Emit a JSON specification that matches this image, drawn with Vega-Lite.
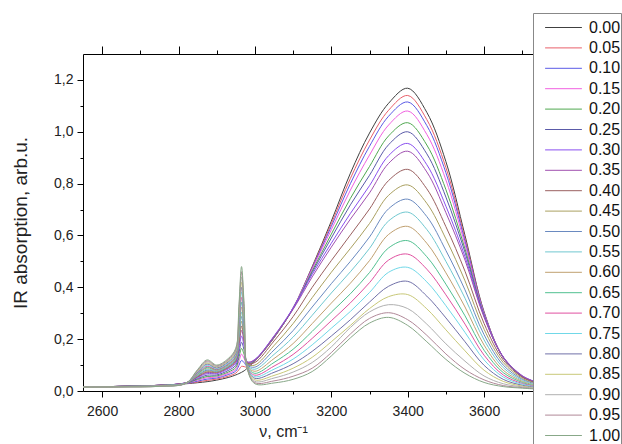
{
"$schema": "https://vega.github.io/schema/vega-lite/v6.json",
"width": 450, "height": 337,
"autosize": {"type": "none"},
"padding": {"left": 83, "top": 54, "right": 89, "bottom": 53},
"background": "white",
"config": {"view": {"stroke": null}, "font": "Liberation Sans",
 "axis": {"grid": false, "domainColor": "#000", "tickColor": "#000", "labelColor": "#222", "titleColor": "#222", "labelFont": "Liberation Sans", "titleFont": "Liberation Sans", "titleFontWeight": "normal", "domainWidth": 1, "tickWidth": 1}},
"data": {"values": [
{"s":"0.00","x":2550,"y":0.015},{"s":"0.00","x":2650,"y":0.018},{"s":"0.00","x":2750,"y":0.022},{"s":"0.00","x":2820,"y":0.028},{"s":"0.00","x":2850,"y":0.032},{"s":"0.00","x":2875,"y":0.036},{"s":"0.00","x":2900,"y":0.042},{"s":"0.00","x":2930,"y":0.052},{"s":"0.00","x":2950,"y":0.062},{"s":"0.00","x":2958,"y":0.067},{"s":"0.00","x":2965,"y":0.072},{"s":"0.00","x":2972,"y":0.078},{"s":"0.00","x":2980,"y":0.088},{"s":"0.00","x":3000,"y":0.115},{"s":"0.00","x":3050,"y":0.205},{"s":"0.00","x":3100,"y":0.32},{"s":"0.00","x":3150,"y":0.48},{"s":"0.00","x":3200,"y":0.655},{"s":"0.00","x":3250,"y":0.84},{"s":"0.00","x":3300,"y":0.995},{"s":"0.00","x":3350,"y":1.11},{"s":"0.00","x":3400,"y":1.168},{"s":"0.00","x":3450,"y":1.075},{"s":"0.00","x":3500,"y":0.885},{"s":"0.00","x":3550,"y":0.6},{"s":"0.00","x":3600,"y":0.305},{"s":"0.00","x":3650,"y":0.13},{"s":"0.00","x":3700,"y":0.055},{"s":"0.00","x":3730,"y":0.035},
{"s":"0.05","x":2550,"y":0.015},{"s":"0.05","x":2650,"y":0.018},{"s":"0.05","x":2750,"y":0.022},{"s":"0.05","x":2820,"y":0.029},{"s":"0.05","x":2850,"y":0.035},{"s":"0.05","x":2875,"y":0.041},{"s":"0.05","x":2900,"y":0.046},{"s":"0.05","x":2930,"y":0.057},{"s":"0.05","x":2950,"y":0.069},{"s":"0.05","x":2958,"y":0.082},{"s":"0.05","x":2965,"y":0.095},{"s":"0.05","x":2972,"y":0.094},{"s":"0.05","x":2980,"y":0.092},{"s":"0.05","x":3000,"y":0.116},{"s":"0.05","x":3050,"y":0.206},{"s":"0.05","x":3100,"y":0.32},{"s":"0.05","x":3150,"y":0.477},{"s":"0.05","x":3200,"y":0.645},{"s":"0.05","x":3250,"y":0.82},{"s":"0.05","x":3300,"y":0.968},{"s":"0.05","x":3350,"y":1.083},{"s":"0.05","x":3400,"y":1.14},{"s":"0.05","x":3450,"y":1.047},{"s":"0.05","x":3500,"y":0.862},{"s":"0.05","x":3550,"y":0.588},{"s":"0.05","x":3600,"y":0.302},{"s":"0.05","x":3650,"y":0.13},{"s":"0.05","x":3700,"y":0.055},{"s":"0.05","x":3730,"y":0.035},
{"s":"0.10","x":2550,"y":0.015},{"s":"0.10","x":2650,"y":0.018},{"s":"0.10","x":2750,"y":0.022},{"s":"0.10","x":2820,"y":0.029},{"s":"0.10","x":2850,"y":0.038},{"s":"0.10","x":2875,"y":0.046},{"s":"0.10","x":2900,"y":0.05},{"s":"0.10","x":2930,"y":0.063},{"s":"0.10","x":2950,"y":0.077},{"s":"0.10","x":2958,"y":0.098},{"s":"0.10","x":2965,"y":0.118},{"s":"0.10","x":2972,"y":0.109},{"s":"0.10","x":2980,"y":0.095},{"s":"0.10","x":3000,"y":0.117},{"s":"0.10","x":3050,"y":0.207},{"s":"0.10","x":3100,"y":0.32},{"s":"0.10","x":3150,"y":0.474},{"s":"0.10","x":3200,"y":0.635},{"s":"0.10","x":3250,"y":0.8},{"s":"0.10","x":3300,"y":0.944},{"s":"0.10","x":3350,"y":1.06},{"s":"0.10","x":3400,"y":1.115},{"s":"0.10","x":3450,"y":1.024},{"s":"0.10","x":3500,"y":0.842},{"s":"0.10","x":3550,"y":0.578},{"s":"0.10","x":3600,"y":0.3},{"s":"0.10","x":3650,"y":0.13},{"s":"0.10","x":3700,"y":0.056},{"s":"0.10","x":3730,"y":0.036},
{"s":"0.15","x":2550,"y":0.015},{"s":"0.15","x":2650,"y":0.018},{"s":"0.15","x":2750,"y":0.022},{"s":"0.15","x":2820,"y":0.03},{"s":"0.15","x":2850,"y":0.042},{"s":"0.15","x":2875,"y":0.051},{"s":"0.15","x":2900,"y":0.054},{"s":"0.15","x":2930,"y":0.068},{"s":"0.15","x":2950,"y":0.084},{"s":"0.15","x":2958,"y":0.113},{"s":"0.15","x":2965,"y":0.142},{"s":"0.15","x":2972,"y":0.125},{"s":"0.15","x":2980,"y":0.099},{"s":"0.15","x":3000,"y":0.118},{"s":"0.15","x":3050,"y":0.208},{"s":"0.15","x":3100,"y":0.32},{"s":"0.15","x":3150,"y":0.47},{"s":"0.15","x":3200,"y":0.622},{"s":"0.15","x":3250,"y":0.775},{"s":"0.15","x":3300,"y":0.91},{"s":"0.15","x":3350,"y":1.026},{"s":"0.15","x":3400,"y":1.08},{"s":"0.15","x":3450,"y":0.99},{"s":"0.15","x":3500,"y":0.814},{"s":"0.15","x":3550,"y":0.565},{"s":"0.15","x":3600,"y":0.296},{"s":"0.15","x":3650,"y":0.13},{"s":"0.15","x":3700,"y":0.056},{"s":"0.15","x":3730,"y":0.036},
{"s":"0.20","x":2550,"y":0.015},{"s":"0.20","x":2650,"y":0.018},{"s":"0.20","x":2750,"y":0.022},{"s":"0.20","x":2820,"y":0.03},{"s":"0.20","x":2850,"y":0.045},{"s":"0.20","x":2875,"y":0.056},{"s":"0.20","x":2900,"y":0.058},{"s":"0.20","x":2930,"y":0.073},{"s":"0.20","x":2950,"y":0.091},{"s":"0.20","x":2958,"y":0.128},{"s":"0.20","x":2965,"y":0.164},{"s":"0.20","x":2972,"y":0.14},{"s":"0.20","x":2980,"y":0.102},{"s":"0.20","x":3000,"y":0.118},{"s":"0.20","x":3050,"y":0.208},{"s":"0.20","x":3100,"y":0.318},{"s":"0.20","x":3150,"y":0.463},{"s":"0.20","x":3200,"y":0.605},{"s":"0.20","x":3250,"y":0.743},{"s":"0.20","x":3300,"y":0.866},{"s":"0.20","x":3350,"y":0.984},{"s":"0.20","x":3400,"y":1.035},{"s":"0.20","x":3450,"y":0.949},{"s":"0.20","x":3500,"y":0.777},{"s":"0.20","x":3550,"y":0.548},{"s":"0.20","x":3600,"y":0.292},{"s":"0.20","x":3650,"y":0.13},{"s":"0.20","x":3700,"y":0.057},{"s":"0.20","x":3730,"y":0.036},
{"s":"0.25","x":2550,"y":0.015},{"s":"0.25","x":2650,"y":0.018},{"s":"0.25","x":2750,"y":0.022},{"s":"0.25","x":2820,"y":0.031},{"s":"0.25","x":2850,"y":0.048},{"s":"0.25","x":2875,"y":0.061},{"s":"0.25","x":2900,"y":0.062},{"s":"0.25","x":2930,"y":0.079},{"s":"0.25","x":2950,"y":0.099},{"s":"0.25","x":2958,"y":0.145},{"s":"0.25","x":2965,"y":0.188},{"s":"0.25","x":2972,"y":0.156},{"s":"0.25","x":2980,"y":0.107},{"s":"0.25","x":3000,"y":0.12},{"s":"0.25","x":3050,"y":0.21},{"s":"0.25","x":3100,"y":0.318},{"s":"0.25","x":3150,"y":0.457},{"s":"0.25","x":3200,"y":0.59},{"s":"0.25","x":3250,"y":0.718},{"s":"0.25","x":3300,"y":0.832},{"s":"0.25","x":3350,"y":0.95},{"s":"0.25","x":3400,"y":1.0},{"s":"0.25","x":3450,"y":0.915},{"s":"0.25","x":3500,"y":0.748},{"s":"0.25","x":3550,"y":0.535},{"s":"0.25","x":3600,"y":0.29},{"s":"0.25","x":3650,"y":0.13},{"s":"0.25","x":3700,"y":0.057},{"s":"0.25","x":3730,"y":0.037},
{"s":"0.30","x":2550,"y":0.015},{"s":"0.30","x":2650,"y":0.018},{"s":"0.30","x":2750,"y":0.022},{"s":"0.30","x":2820,"y":0.032},{"s":"0.30","x":2850,"y":0.052},{"s":"0.30","x":2875,"y":0.067},{"s":"0.30","x":2900,"y":0.067},{"s":"0.30","x":2930,"y":0.085},{"s":"0.30","x":2950,"y":0.107},{"s":"0.30","x":2958,"y":0.16},{"s":"0.30","x":2965,"y":0.212},{"s":"0.30","x":2972,"y":0.172},{"s":"0.30","x":2980,"y":0.111},{"s":"0.30","x":3000,"y":0.122},{"s":"0.30","x":3050,"y":0.212},{"s":"0.30","x":3100,"y":0.32},{"s":"0.30","x":3150,"y":0.45},{"s":"0.30","x":3200,"y":0.57},{"s":"0.30","x":3250,"y":0.685},{"s":"0.30","x":3300,"y":0.792},{"s":"0.30","x":3350,"y":0.908},{"s":"0.30","x":3400,"y":0.955},{"s":"0.30","x":3450,"y":0.873},{"s":"0.30","x":3500,"y":0.713},{"s":"0.30","x":3550,"y":0.518},{"s":"0.30","x":3600,"y":0.288},{"s":"0.30","x":3650,"y":0.132},{"s":"0.30","x":3700,"y":0.059},{"s":"0.30","x":3730,"y":0.038},
{"s":"0.35","x":2550,"y":0.015},{"s":"0.35","x":2650,"y":0.018},{"s":"0.35","x":2750,"y":0.022},{"s":"0.35","x":2820,"y":0.032},{"s":"0.35","x":2850,"y":0.054},{"s":"0.35","x":2875,"y":0.071},{"s":"0.35","x":2900,"y":0.07},{"s":"0.35","x":2930,"y":0.089},{"s":"0.35","x":2950,"y":0.113},{"s":"0.35","x":2958,"y":0.175},{"s":"0.35","x":2965,"y":0.234},{"s":"0.35","x":2972,"y":0.186},{"s":"0.35","x":2980,"y":0.113},{"s":"0.35","x":3000,"y":0.12},{"s":"0.35","x":3050,"y":0.21},{"s":"0.35","x":3100,"y":0.315},{"s":"0.35","x":3150,"y":0.44},{"s":"0.35","x":3200,"y":0.555},{"s":"0.35","x":3250,"y":0.663},{"s":"0.35","x":3300,"y":0.764},{"s":"0.35","x":3350,"y":0.878},{"s":"0.35","x":3400,"y":0.925},{"s":"0.35","x":3450,"y":0.845},{"s":"0.35","x":3500,"y":0.688},{"s":"0.35","x":3550,"y":0.505},{"s":"0.35","x":3600,"y":0.284},{"s":"0.35","x":3650,"y":0.131},{"s":"0.35","x":3700,"y":0.058},{"s":"0.35","x":3730,"y":0.037},
{"s":"0.40","x":2550,"y":0.015},{"s":"0.40","x":2650,"y":0.018},{"s":"0.40","x":2750,"y":0.022},{"s":"0.40","x":2820,"y":0.032},{"s":"0.40","x":2850,"y":0.056},{"s":"0.40","x":2875,"y":0.074},{"s":"0.40","x":2900,"y":0.072},{"s":"0.40","x":2930,"y":0.091},{"s":"0.40","x":2950,"y":0.116},{"s":"0.40","x":2958,"y":0.185},{"s":"0.40","x":2965,"y":0.251},{"s":"0.40","x":2972,"y":0.195},{"s":"0.40","x":2980,"y":0.108},{"s":"0.40","x":3000,"y":0.11},{"s":"0.40","x":3050,"y":0.193},{"s":"0.40","x":3100,"y":0.287},{"s":"0.40","x":3150,"y":0.4},{"s":"0.40","x":3200,"y":0.503},{"s":"0.40","x":3250,"y":0.602},{"s":"0.40","x":3300,"y":0.702},{"s":"0.40","x":3350,"y":0.812},{"s":"0.40","x":3400,"y":0.855},{"s":"0.40","x":3450,"y":0.78},{"s":"0.40","x":3500,"y":0.634},{"s":"0.40","x":3550,"y":0.462},{"s":"0.40","x":3600,"y":0.26},{"s":"0.40","x":3650,"y":0.12},{"s":"0.40","x":3700,"y":0.053},{"s":"0.40","x":3730,"y":0.034},
{"s":"0.45","x":2550,"y":0.015},{"s":"0.45","x":2650,"y":0.018},{"s":"0.45","x":2750,"y":0.021},{"s":"0.45","x":2820,"y":0.031},{"s":"0.45","x":2850,"y":0.058},{"s":"0.45","x":2875,"y":0.078},{"s":"0.45","x":2900,"y":0.073},{"s":"0.45","x":2930,"y":0.093},{"s":"0.45","x":2950,"y":0.119},{"s":"0.45","x":2958,"y":0.195},{"s":"0.45","x":2965,"y":0.269},{"s":"0.45","x":2972,"y":0.204},{"s":"0.45","x":2980,"y":0.105},{"s":"0.45","x":3000,"y":0.1},{"s":"0.45","x":3050,"y":0.175},{"s":"0.45","x":3100,"y":0.26},{"s":"0.45","x":3150,"y":0.36},{"s":"0.45","x":3200,"y":0.458},{"s":"0.45","x":3250,"y":0.55},{"s":"0.45","x":3300,"y":0.646},{"s":"0.45","x":3350,"y":0.755},{"s":"0.45","x":3400,"y":0.795},{"s":"0.45","x":3450,"y":0.724},{"s":"0.45","x":3500,"y":0.587},{"s":"0.45","x":3550,"y":0.425},{"s":"0.45","x":3600,"y":0.238},{"s":"0.45","x":3650,"y":0.11},{"s":"0.45","x":3700,"y":0.049},{"s":"0.45","x":3730,"y":0.031},
{"s":"0.50","x":2550,"y":0.015},{"s":"0.50","x":2650,"y":0.018},{"s":"0.50","x":2750,"y":0.021},{"s":"0.50","x":2820,"y":0.031},{"s":"0.50","x":2850,"y":0.06},{"s":"0.50","x":2875,"y":0.081},{"s":"0.50","x":2900,"y":0.076},{"s":"0.50","x":2930,"y":0.095},{"s":"0.50","x":2950,"y":0.122},{"s":"0.50","x":2958,"y":0.206},{"s":"0.50","x":2965,"y":0.287},{"s":"0.50","x":2972,"y":0.215},{"s":"0.50","x":2980,"y":0.102},{"s":"0.50","x":3000,"y":0.092},{"s":"0.50","x":3050,"y":0.158},{"s":"0.50","x":3100,"y":0.233},{"s":"0.50","x":3150,"y":0.324},{"s":"0.50","x":3200,"y":0.414},{"s":"0.50","x":3250,"y":0.5},{"s":"0.50","x":3300,"y":0.594},{"s":"0.50","x":3350,"y":0.703},{"s":"0.50","x":3400,"y":0.74},{"s":"0.50","x":3450,"y":0.673},{"s":"0.50","x":3500,"y":0.542},{"s":"0.50","x":3550,"y":0.39},{"s":"0.50","x":3600,"y":0.217},{"s":"0.50","x":3650,"y":0.1},{"s":"0.50","x":3700,"y":0.045},{"s":"0.50","x":3730,"y":0.029},
{"s":"0.55","x":2550,"y":0.015},{"s":"0.55","x":2650,"y":0.017},{"s":"0.55","x":2750,"y":0.021},{"s":"0.55","x":2820,"y":0.031},{"s":"0.55","x":2850,"y":0.062},{"s":"0.55","x":2875,"y":0.085},{"s":"0.55","x":2900,"y":0.078},{"s":"0.55","x":2930,"y":0.097},{"s":"0.55","x":2950,"y":0.126},{"s":"0.55","x":2958,"y":0.217},{"s":"0.55","x":2965,"y":0.305},{"s":"0.55","x":2972,"y":0.224},{"s":"0.55","x":2980,"y":0.099},{"s":"0.55","x":3000,"y":0.084},{"s":"0.55","x":3050,"y":0.141},{"s":"0.55","x":3100,"y":0.208},{"s":"0.55","x":3150,"y":0.292},{"s":"0.55","x":3200,"y":0.378},{"s":"0.55","x":3250,"y":0.46},{"s":"0.55","x":3300,"y":0.55},{"s":"0.55","x":3350,"y":0.656},{"s":"0.55","x":3400,"y":0.69},{"s":"0.55","x":3450,"y":0.623},{"s":"0.55","x":3500,"y":0.5},{"s":"0.55","x":3550,"y":0.358},{"s":"0.55","x":3600,"y":0.197},{"s":"0.55","x":3650,"y":0.09},{"s":"0.55","x":3700,"y":0.041},{"s":"0.55","x":3730,"y":0.026},
{"s":"0.60","x":2550,"y":0.015},{"s":"0.60","x":2650,"y":0.017},{"s":"0.60","x":2750,"y":0.02},{"s":"0.60","x":2820,"y":0.03},{"s":"0.60","x":2850,"y":0.064},{"s":"0.60","x":2875,"y":0.089},{"s":"0.60","x":2900,"y":0.08},{"s":"0.60","x":2930,"y":0.1},{"s":"0.60","x":2950,"y":0.129},{"s":"0.60","x":2958,"y":0.228},{"s":"0.60","x":2965,"y":0.324},{"s":"0.60","x":2972,"y":0.235},{"s":"0.60","x":2980,"y":0.097},{"s":"0.60","x":3000,"y":0.076},{"s":"0.60","x":3050,"y":0.125},{"s":"0.60","x":3100,"y":0.183},{"s":"0.60","x":3150,"y":0.26},{"s":"0.60","x":3200,"y":0.339},{"s":"0.60","x":3250,"y":0.416},{"s":"0.60","x":3300,"y":0.503},{"s":"0.60","x":3350,"y":0.604},{"s":"0.60","x":3400,"y":0.635},{"s":"0.60","x":3450,"y":0.57},{"s":"0.60","x":3500,"y":0.456},{"s":"0.60","x":3550,"y":0.324},{"s":"0.60","x":3600,"y":0.177},{"s":"0.60","x":3650,"y":0.08},{"s":"0.60","x":3700,"y":0.037},{"s":"0.60","x":3730,"y":0.024},
{"s":"0.65","x":2550,"y":0.015},{"s":"0.65","x":2650,"y":0.017},{"s":"0.65","x":2750,"y":0.02},{"s":"0.65","x":2820,"y":0.03},{"s":"0.65","x":2850,"y":0.066},{"s":"0.65","x":2875,"y":0.092},{"s":"0.65","x":2900,"y":0.082},{"s":"0.65","x":2930,"y":0.103},{"s":"0.65","x":2950,"y":0.133},{"s":"0.65","x":2958,"y":0.239},{"s":"0.65","x":2965,"y":0.342},{"s":"0.65","x":2972,"y":0.245},{"s":"0.65","x":2980,"y":0.094},{"s":"0.65","x":3000,"y":0.068},{"s":"0.65","x":3050,"y":0.11},{"s":"0.65","x":3100,"y":0.161},{"s":"0.65","x":3150,"y":0.23},{"s":"0.65","x":3200,"y":0.304},{"s":"0.65","x":3250,"y":0.375},{"s":"0.65","x":3300,"y":0.457},{"s":"0.65","x":3350,"y":0.552},{"s":"0.65","x":3400,"y":0.58},{"s":"0.65","x":3450,"y":0.518},{"s":"0.65","x":3500,"y":0.412},{"s":"0.65","x":3550,"y":0.29},{"s":"0.65","x":3600,"y":0.157},{"s":"0.65","x":3650,"y":0.071},{"s":"0.65","x":3700,"y":0.033},{"s":"0.65","x":3730,"y":0.021},
{"s":"0.70","x":2550,"y":0.015},{"s":"0.70","x":2650,"y":0.017},{"s":"0.70","x":2750,"y":0.02},{"s":"0.70","x":2820,"y":0.03},{"s":"0.70","x":2850,"y":0.069},{"s":"0.70","x":2875,"y":0.096},{"s":"0.70","x":2900,"y":0.084},{"s":"0.70","x":2930,"y":0.105},{"s":"0.70","x":2950,"y":0.137},{"s":"0.70","x":2958,"y":0.251},{"s":"0.70","x":2965,"y":0.361},{"s":"0.70","x":2972,"y":0.256},{"s":"0.70","x":2980,"y":0.092},{"s":"0.70","x":3000,"y":0.061},{"s":"0.70","x":3050,"y":0.096},{"s":"0.70","x":3100,"y":0.141},{"s":"0.70","x":3150,"y":0.203},{"s":"0.70","x":3200,"y":0.271},{"s":"0.70","x":3250,"y":0.34},{"s":"0.70","x":3300,"y":0.418},{"s":"0.70","x":3350,"y":0.505},{"s":"0.70","x":3400,"y":0.528},{"s":"0.70","x":3450,"y":0.47},{"s":"0.70","x":3500,"y":0.371},{"s":"0.70","x":3550,"y":0.258},{"s":"0.70","x":3600,"y":0.138},{"s":"0.70","x":3650,"y":0.062},{"s":"0.70","x":3700,"y":0.029},{"s":"0.70","x":3730,"y":0.019},
{"s":"0.75","x":2550,"y":0.015},{"s":"0.75","x":2650,"y":0.017},{"s":"0.75","x":2750,"y":0.019},{"s":"0.75","x":2820,"y":0.03},{"s":"0.75","x":2850,"y":0.071},{"s":"0.75","x":2875,"y":0.1},{"s":"0.75","x":2900,"y":0.087},{"s":"0.75","x":2930,"y":0.108},{"s":"0.75","x":2950,"y":0.142},{"s":"0.75","x":2958,"y":0.263},{"s":"0.75","x":2965,"y":0.381},{"s":"0.75","x":2972,"y":0.267},{"s":"0.75","x":2980,"y":0.091},{"s":"0.75","x":3000,"y":0.055},{"s":"0.75","x":3050,"y":0.084},{"s":"0.75","x":3100,"y":0.123},{"s":"0.75","x":3150,"y":0.178},{"s":"0.75","x":3200,"y":0.242},{"s":"0.75","x":3250,"y":0.307},{"s":"0.75","x":3300,"y":0.38},{"s":"0.75","x":3350,"y":0.458},{"s":"0.75","x":3400,"y":0.477},{"s":"0.75","x":3450,"y":0.421},{"s":"0.75","x":3500,"y":0.329},{"s":"0.75","x":3550,"y":0.226},{"s":"0.75","x":3600,"y":0.12},{"s":"0.75","x":3650,"y":0.054},{"s":"0.75","x":3700,"y":0.026},{"s":"0.75","x":3730,"y":0.017},
{"s":"0.80","x":2550,"y":0.015},{"s":"0.80","x":2650,"y":0.016},{"s":"0.80","x":2750,"y":0.019},{"s":"0.80","x":2820,"y":0.03},{"s":"0.80","x":2850,"y":0.073},{"s":"0.80","x":2875,"y":0.104},{"s":"0.80","x":2900,"y":0.089},{"s":"0.80","x":2930,"y":0.112},{"s":"0.80","x":2950,"y":0.146},{"s":"0.80","x":2958,"y":0.275},{"s":"0.80","x":2965,"y":0.4},{"s":"0.80","x":2972,"y":0.279},{"s":"0.80","x":2980,"y":0.09},{"s":"0.80","x":3000,"y":0.049},{"s":"0.80","x":3050,"y":0.072},{"s":"0.80","x":3100,"y":0.105},{"s":"0.80","x":3150,"y":0.153},{"s":"0.80","x":3200,"y":0.212},{"s":"0.80","x":3250,"y":0.275},{"s":"0.80","x":3300,"y":0.343},{"s":"0.80","x":3350,"y":0.404},{"s":"0.80","x":3400,"y":0.423},{"s":"0.80","x":3450,"y":0.366},{"s":"0.80","x":3500,"y":0.282},{"s":"0.80","x":3550,"y":0.19},{"s":"0.80","x":3600,"y":0.099},{"s":"0.80","x":3650,"y":0.045},{"s":"0.80","x":3700,"y":0.022},{"s":"0.80","x":3730,"y":0.015},
{"s":"0.85","x":2550,"y":0.015},{"s":"0.85","x":2650,"y":0.016},{"s":"0.85","x":2750,"y":0.019},{"s":"0.85","x":2820,"y":0.03},{"s":"0.85","x":2850,"y":0.076},{"s":"0.85","x":2875,"y":0.108},{"s":"0.85","x":2900,"y":0.092},{"s":"0.85","x":2930,"y":0.115},{"s":"0.85","x":2950,"y":0.15},{"s":"0.85","x":2958,"y":0.287},{"s":"0.85","x":2965,"y":0.42},{"s":"0.85","x":2972,"y":0.29},{"s":"0.85","x":2980,"y":0.088},{"s":"0.85","x":3000,"y":0.043},{"s":"0.85","x":3050,"y":0.06},{"s":"0.85","x":3100,"y":0.088},{"s":"0.85","x":3150,"y":0.13},{"s":"0.85","x":3200,"y":0.19},{"s":"0.85","x":3250,"y":0.253},{"s":"0.85","x":3300,"y":0.318},{"s":"0.85","x":3350,"y":0.364},{"s":"0.85","x":3400,"y":0.372},{"s":"0.85","x":3450,"y":0.317},{"s":"0.85","x":3500,"y":0.236},{"s":"0.85","x":3550,"y":0.155},{"s":"0.85","x":3600,"y":0.08},{"s":"0.85","x":3650,"y":0.037},{"s":"0.85","x":3700,"y":0.019},{"s":"0.85","x":3730,"y":0.013},
{"s":"0.90","x":2550,"y":0.015},{"s":"0.90","x":2650,"y":0.016},{"s":"0.90","x":2750,"y":0.018},{"s":"0.90","x":2820,"y":0.03},{"s":"0.90","x":2850,"y":0.078},{"s":"0.90","x":2875,"y":0.112},{"s":"0.90","x":2900,"y":0.094},{"s":"0.90","x":2930,"y":0.118},{"s":"0.90","x":2950,"y":0.155},{"s":"0.90","x":2958,"y":0.299},{"s":"0.90","x":2965,"y":0.439},{"s":"0.90","x":2972,"y":0.301},{"s":"0.90","x":2980,"y":0.087},{"s":"0.90","x":3000,"y":0.037},{"s":"0.90","x":3050,"y":0.05},{"s":"0.90","x":3100,"y":0.073},{"s":"0.90","x":3150,"y":0.11},{"s":"0.90","x":3200,"y":0.17},{"s":"0.90","x":3250,"y":0.245},{"s":"0.90","x":3300,"y":0.305},{"s":"0.90","x":3350,"y":0.333},{"s":"0.90","x":3400,"y":0.318},{"s":"0.90","x":3450,"y":0.258},{"s":"0.90","x":3500,"y":0.182},{"s":"0.90","x":3550,"y":0.115},{"s":"0.90","x":3600,"y":0.058},{"s":"0.90","x":3650,"y":0.028},{"s":"0.90","x":3700,"y":0.016},{"s":"0.90","x":3730,"y":0.011},
{"s":"0.95","x":2550,"y":0.015},{"s":"0.95","x":2650,"y":0.016},{"s":"0.95","x":2750,"y":0.018},{"s":"0.95","x":2820,"y":0.03},{"s":"0.95","x":2850,"y":0.08},{"s":"0.95","x":2875,"y":0.116},{"s":"0.95","x":2900,"y":0.097},{"s":"0.95","x":2930,"y":0.121},{"s":"0.95","x":2950,"y":0.16},{"s":"0.95","x":2958,"y":0.312},{"s":"0.95","x":2965,"y":0.46},{"s":"0.95","x":2972,"y":0.314},{"s":"0.95","x":2980,"y":0.087},{"s":"0.95","x":3000,"y":0.032},{"s":"0.95","x":3050,"y":0.039},{"s":"0.95","x":3100,"y":0.057},{"s":"0.95","x":3150,"y":0.088},{"s":"0.95","x":3200,"y":0.148},{"s":"0.95","x":3250,"y":0.22},{"s":"0.95","x":3300,"y":0.28},{"s":"0.95","x":3350,"y":0.302},{"s":"0.95","x":3400,"y":0.275},{"s":"0.95","x":3450,"y":0.215},{"s":"0.95","x":3500,"y":0.143},{"s":"0.95","x":3550,"y":0.083},{"s":"0.95","x":3600,"y":0.043},{"s":"0.95","x":3650,"y":0.021},{"s":"0.95","x":3700,"y":0.013},{"s":"0.95","x":3730,"y":0.009},
{"s":"1.00","x":2550,"y":0.015},{"s":"1.00","x":2650,"y":0.016},{"s":"1.00","x":2750,"y":0.018},{"s":"1.00","x":2820,"y":0.03},{"s":"1.00","x":2850,"y":0.083},{"s":"1.00","x":2875,"y":0.12},{"s":"1.00","x":2900,"y":0.1},{"s":"1.00","x":2930,"y":0.125},{"s":"1.00","x":2950,"y":0.165},{"s":"1.00","x":2958,"y":0.325},{"s":"1.00","x":2965,"y":0.48},{"s":"1.00","x":2972,"y":0.326},{"s":"1.00","x":2980,"y":0.087},{"s":"1.00","x":3000,"y":0.028},{"s":"1.00","x":3050,"y":0.031},{"s":"1.00","x":3100,"y":0.045},{"s":"1.00","x":3150,"y":0.075},{"s":"1.00","x":3200,"y":0.135},{"s":"1.00","x":3250,"y":0.205},{"s":"1.00","x":3300,"y":0.262},{"s":"1.00","x":3350,"y":0.284},{"s":"1.00","x":3400,"y":0.253},{"s":"1.00","x":3450,"y":0.19},{"s":"1.00","x":3500,"y":0.122},{"s":"1.00","x":3550,"y":0.068},{"s":"1.00","x":3600,"y":0.033},{"s":"1.00","x":3650,"y":0.017},{"s":"1.00","x":3700,"y":0.011},{"s":"1.00","x":3730,"y":0.008}
]},
"layer": [
 {"mark": {"type": "line", "strokeWidth": 1, "interpolate": "catmull-rom", "clip": true},
  "encoding": {
   "x": {"field": "x", "type": "quantitative", "scale": {"domain": [2550, 3728], "nice": false, "zero": false},
    "axis": {"orient": "bottom", "values": [2600,2700,2800,2900,3000,3100,3200,3300,3400,3500,3600,3700], "format": "d",
     "labelExpr": "datum.value % 200 === 0 ? datum.label : ''",
     "tickSize": {"condition": {"test": "datum.value % 200 === 0", "value": 6}, "value": 3},
     "labelFontSize": 14, "labelPadding": 7, "title": "ν, cm⁻¹", "titleFontSize": 16, "titlePadding": 5, "titleX": 200}},
   "y": {"field": "y", "type": "quantitative", "scale": {"domain": [0, 1.3], "nice": false},
    "axis": {"orient": "left", "values": [0,0.1,0.2,0.3,0.4,0.5,0.6,0.7,0.8,0.9,1.0,1.1,1.2],
     "labelExpr": "round(datum.value*10) % 2 === 0 ? replace(format(datum.value, '.1f'), '.', ',') : ''",
     "tickSize": {"condition": {"test": "round(datum.value*10) % 2 === 0", "value": 6}, "value": 3},
     "labelFontSize": 14, "labelPadding": 4, "title": "IR absorption, arb.u.", "titleFontSize": 19, "titlePadding": 23}},
   "color": {"field": "s", "type": "nominal",
    "scale": {"range": ["#404040","#e8606a","#5a5ae6","#f060e0","#50a850","#5a5aa8","#8a50f0","#a050b0","#9a6060","#aaa060","#6a8ac0","#70c8d0","#c0a070","#50c090","#e050a0","#70d8e8","#7070a8","#c8c878","#b0b0b0","#b08898","#88a888"]},
    "legend": {"title": " ", "titleFontSize": 6, "titlePadding": 0, "orient": "none", "legendX": 450, "legendY": -41, "symbolType": "M-2.3,0L2.3,0", "symbolSize": 256, "symbolStrokeWidth": 1, "labelFontSize": 16, "labelFont": "Liberation Sans", "labelColor": "#111", "strokeColor": "#888", "fillColor": "white", "padding": 0, "rowPadding": 3.4, "symbolOffset": 22, "labelOffset": 17, "symbolLimit": 30}}
  }},
 {"mark": {"type": "line", "opacity": 0},
  "encoding": {
   "x": {"field": "x", "type": "quantitative",
    "axis": {"orient": "top", "values": [2600,2700,2800,2900,3000,3100,3200,3300,3400,3500,3600,3700], "labels": false, "title": null,
     "tickSize": {"condition": {"test": "datum.value % 200 === 0", "value": 8}, "value": 4}}},
   "y": {"field": "y", "type": "quantitative",
    "axis": {"orient": "left", "values": [0,0.1,0.2,0.3,0.4,0.5,0.6,0.7,0.8,0.9,1.0,1.1,1.2],
     "labelExpr": "round(datum.value*10) % 2 === 0 ? replace(format(datum.value, '.1f'), '.', ',') : ''",
     "tickSize": {"condition": {"test": "round(datum.value*10) % 2 === 0", "value": 6}, "value": 3},
     "labelFontSize": 14, "labelPadding": 4, "title": "IR absorption, arb.u.", "titleFontSize": 19, "titlePadding": 23}}
  }}
],
"resolve": {"axis": {"x": "independent"}}
}
